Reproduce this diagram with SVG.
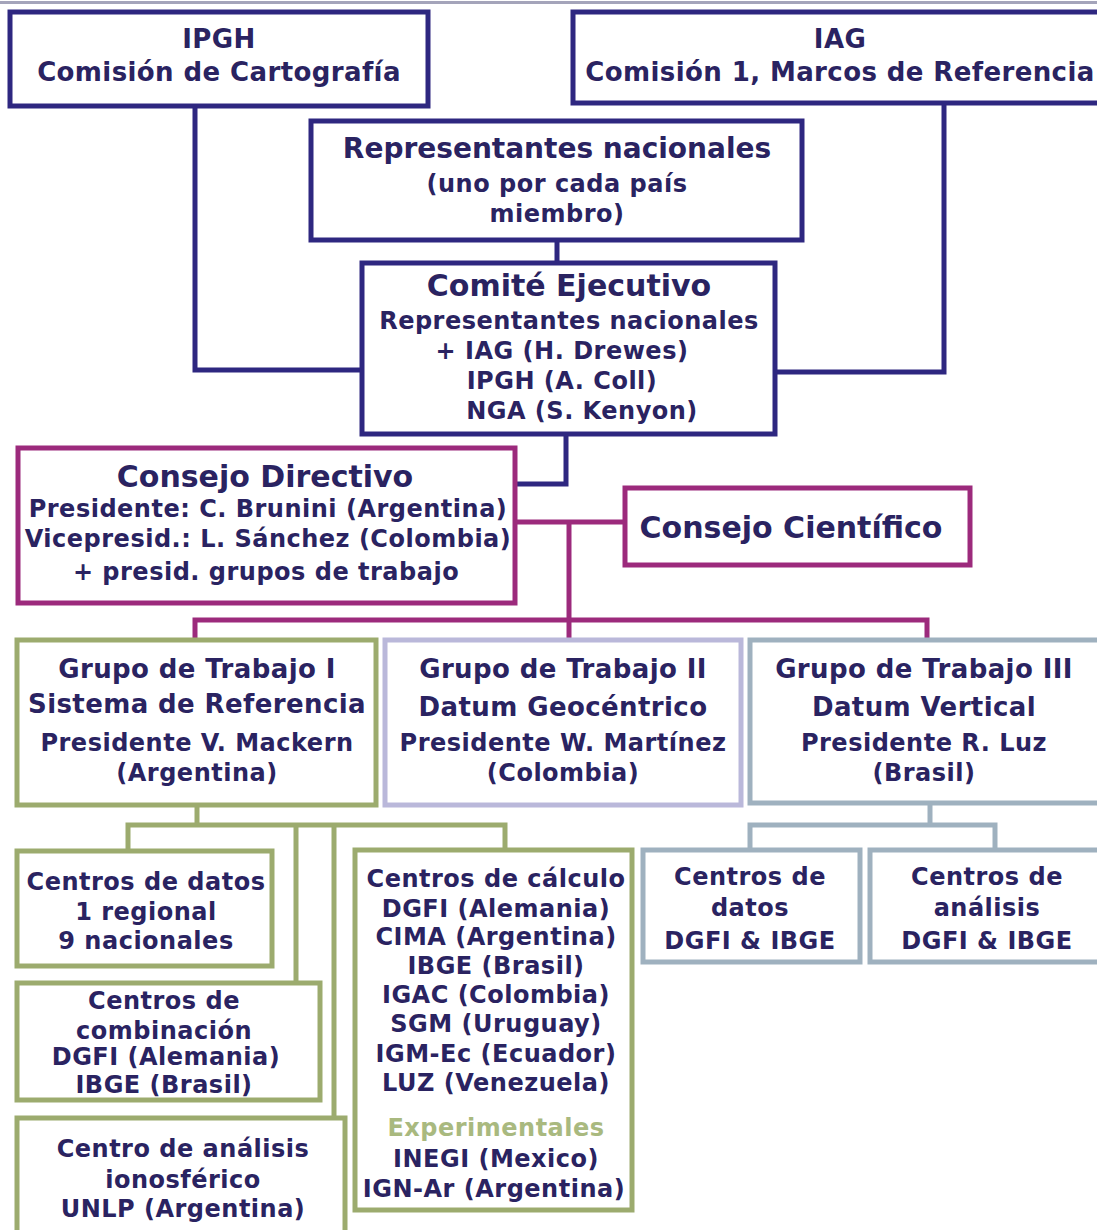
<svg xmlns="http://www.w3.org/2000/svg" width="1097" height="1230" viewBox="0 0 1097 1230">
<style>
text{font-family:"DejaVu Sans","Verdana",sans-serif;font-weight:bold;fill:#2a2361;text-anchor:middle}
.box{fill:#fff;stroke-width:5}
.navy{stroke:#2e2780}
.mag{stroke:#9c2a7c}
.grn{stroke:#9cab6e}
.lav{stroke:#bab8da}
.gb{stroke:#9fb1bf}
.ln{fill:none;stroke-width:5}
.t26{font-size:26px;letter-spacing:0.4px}
.t28{font-size:28px}
.t30{font-size:30px}
.t24{font-size:24px;letter-spacing:0.5px}
.exp{fill:#a9b97f}
</style>
<rect x="0" y="0" width="1097" height="1230" fill="#fff"/>
<line x1="0" y1="2.5" x2="1097" y2="2.5" stroke="#a4a4ba" stroke-width="3"/>
<g id="connectors">
<polyline class="ln navy" points="195,106 195,370 362,370"/>
<polyline class="ln navy" points="944,103 944,372 775,372"/>
<line class="ln navy" x1="557" y1="240" x2="557" y2="263"/>
<polyline class="ln navy" points="566,434 566,484 515,484"/>
<line class="ln mag" x1="515" y1="522" x2="625" y2="522"/>
<line class="ln mag" x1="569" y1="522" x2="569" y2="640"/>
<polyline class="ln mag" points="195,640 195,620 927,620 927,640"/>
<line class="ln grn" x1="197" y1="805" x2="197" y2="825"/>
<polyline class="ln grn" points="128,851 128,825 505,825 505,850"/>
<line class="ln grn" x1="296" y1="825" x2="296" y2="983"/>
<line class="ln grn" x1="334" y1="825" x2="334" y2="1118"/>
<line class="ln gb" x1="930" y1="803" x2="930" y2="825"/>
<polyline class="ln gb" points="750,850 750,825 995,825 995,850"/>
</g>
<g id="ipgh">
<rect class="box navy" x="10" y="12" width="418" height="94"/>
<text class="t26" x="219" y="48">IPGH</text>
<text class="t26" x="219" y="81">Comisión de Cartografía</text>
</g>
<g id="iag">
<rect class="box navy" x="573" y="12" width="530" height="91"/>
<text class="t26" x="840" y="48">IAG</text>
<text class="t26" x="840" y="81">Comisión 1, Marcos de Referencia</text>
</g>
<g id="representantes">
<rect class="box navy" x="311" y="121" width="491" height="119"/>
<text class="t28" x="557" y="158">Representantes nacionales</text>
<text class="t24" x="557" y="192">(uno por cada país</text>
<text class="t24" x="557" y="222">miembro)</text>
</g>
<g id="comite">
<rect class="box navy" x="362" y="263" width="413" height="171"/>
<text class="t30" x="569" y="296">Comité Ejecutivo</text>
<text class="t24" x="569" y="329">Representantes nacionales</text>
<text class="t24" x="562" y="359">+ IAG (H. Drewes)</text>
<text class="t24" x="562" y="389">IPGH (A. Coll)</text>
<text class="t24" x="582" y="419">NGA (S. Kenyon)</text>
</g>
<g id="consejo-directivo">
<rect class="box mag" x="18" y="448" width="497" height="155"/>
<text class="t30" x="265" y="487">Consejo Directivo</text>
<text class="t24" x="268" y="517">Presidente: C. Brunini (Argentina)</text>
<text class="t24" x="268" y="547">Vicepresid.: L. Sánchez (Colombia)</text>
<text class="t24" x="266" y="580">+ presid. grupos de trabajo</text>
</g>
<g id="consejo-cientifico">
<rect class="box mag" x="625" y="488" width="345" height="77"/>
<text class="t30" x="791" y="538">Consejo Científico</text>
</g>
<g id="gt1">
<rect class="box grn" x="17" y="640" width="359" height="165"/>
<text class="t26" x="197" y="678">Grupo de Trabajo I</text>
<text class="t26" x="197" y="713">Sistema de Referencia</text>
<text class="t24" x="197" y="751">Presidente V. Mackern</text>
<text class="t24" x="197" y="781">(Argentina)</text>
</g>
<g id="gt2">
<rect class="box lav" x="385" y="640" width="356" height="165"/>
<text class="t26" x="563" y="678">Grupo de Trabajo II</text>
<text class="t26" x="563" y="716">Datum Geocéntrico</text>
<text class="t24" x="563" y="751">Presidente W. Martínez</text>
<text class="t24" x="563" y="781">(Colombia)</text>
</g>
<g id="gt3">
<rect class="box gb" x="750" y="640" width="353" height="163"/>
<text class="t26" x="924" y="678">Grupo de Trabajo III</text>
<text class="t26" x="924" y="716">Datum Vertical</text>
<text class="t24" x="924" y="751">Presidente R. Luz</text>
<text class="t24" x="924" y="781">(Brasil)</text>
</g>
<g id="centros-datos">
<rect class="box grn" x="17" y="851" width="255" height="115"/>
<text class="t24" x="146" y="890">Centros de datos</text>
<text class="t24" x="146" y="920">1 regional</text>
<text class="t24" x="146" y="949">9 nacionales</text>
</g>
<g id="centros-combinacion">
<rect class="box grn" x="17" y="983" width="303" height="117"/>
<text class="t24" x="164" y="1009">Centros de</text>
<text class="t24" x="164" y="1039">combinación</text>
<text class="t24" x="166" y="1065">DGFI (Alemania)</text>
<text class="t24" x="164" y="1093">IBGE (Brasil)</text>
</g>
<g id="centro-ionosferico">
<rect class="box grn" x="17" y="1118" width="328" height="120"/>
<text class="t24" x="183" y="1157">Centro de análisis</text>
<text class="t24" x="183" y="1188">ionosférico</text>
<text class="t24" x="183" y="1217">UNLP (Argentina)</text>
</g>
<g id="centros-calculo">
<rect class="box grn" x="355" y="850" width="277" height="360"/>
<text class="t24" x="496" y="887">Centros de cálculo</text>
<text class="t24" x="496" y="917">DGFI (Alemania)</text>
<text class="t24" x="496" y="945">CIMA (Argentina)</text>
<text class="t24" x="496" y="974">IBGE (Brasil)</text>
<text class="t24" x="496" y="1003">IGAC (Colombia)</text>
<text class="t24" x="496" y="1032">SGM (Uruguay)</text>
<text class="t24" x="496" y="1062">IGM-Ec (Ecuador)</text>
<text class="t24" x="496" y="1091">LUZ (Venezuela)</text>
<text class="t24 exp" x="496" y="1136">Experimentales</text>
<text class="t24" x="496" y="1167">INEGI (Mexico)</text>
<text class="t24" x="494" y="1197">IGN-Ar (Argentina)</text>
</g>
<g id="gt3-datos">
<rect class="box gb" x="643" y="850" width="217" height="112"/>
<text class="t24" x="750" y="885">Centros de</text>
<text class="t24" x="750" y="916">datos</text>
<text class="t24" x="750" y="949">DGFI &amp; IBGE</text>
</g>
<g id="gt3-analisis">
<rect class="box gb" x="870" y="850" width="233" height="112"/>
<text class="t24" x="987" y="885">Centros de</text>
<text class="t24" x="987" y="916">análisis</text>
<text class="t24" x="987" y="949">DGFI &amp; IBGE</text>
</g>
</svg>
